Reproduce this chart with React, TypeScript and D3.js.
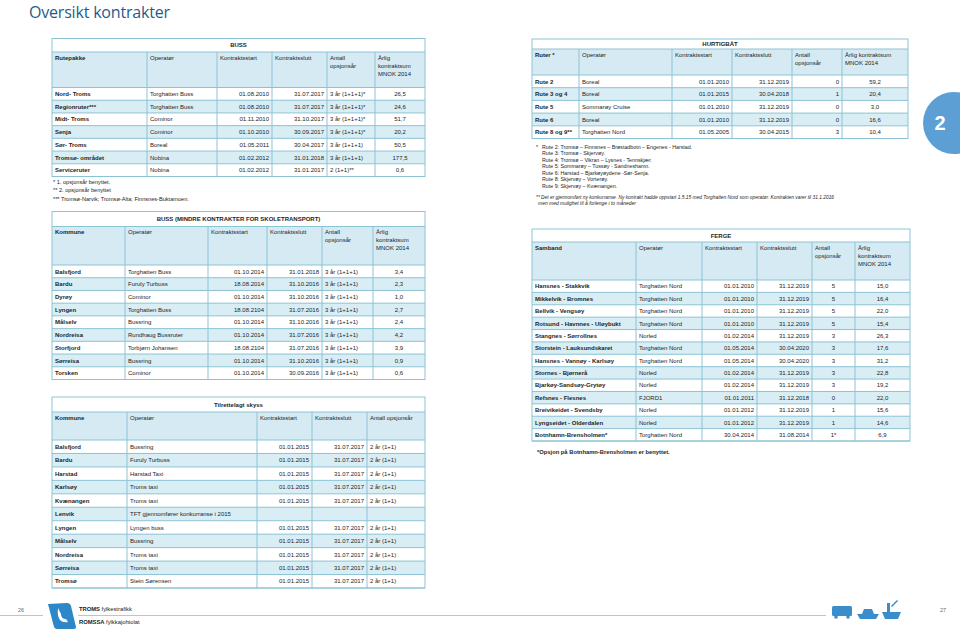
import React from 'react';
import * as d3 from 'd3';

// ---- BUSS
const bussRuter = ['Nord- Troms', 'Regionruter***', 'Midt- Troms', 'Senja', 'Sør- Troms', 'Tromsø- området', 'Serviceruter'];
const bussOperator = ['Torghatten Buss', 'Torghatten Buss', 'Cominor', 'Cominor', 'Boreal', 'Nobina', 'Nobina'];
const bussStart = ['01.08.2010', '01.08.2010', '01.11.2010', '01.10.2010', '01.05.2011', '01.02.2012', '01.02.2012'];
const bussSlutt = ['31.07.2017', '31.07.2017', '31.10.2017', '30.09.2017', '30.04.2017', '31.01.2018', '31.01.2017'];
const bussOpsjon = ['3 år (1+1+1)*', '3 år (1+1+1)*', '3 år (1+1+1)*', '3 år (1+1+1)*', '3 år (1+1+1)', '3 år (1+1+1)', '2 (1+1)**'];
const bussSum = ['26,5', '24,6', '51,7', '20,2', '50,5', '177,5', '0,6'];
const bussNotes = ['* 1. opsjonsår benyttet.', '** 2. opsjonsår benyttet', '*** Tromsø-Narvik; Tromsø-Alta; Finnsnes-Buktamoen.'];

// ---- BUSS (mindre kontrakter)
const skoleKommune = ['Balsfjord', 'Bardu', 'Dyrøy', 'Lyngen', 'Målselv', 'Nordreisa', 'Storfjord', 'Sørreisa', 'Torsken'];
const skoleOperator = ['Torghatten Buss', 'Furuly Turbuss', 'Cominor', 'Torghatten Buss', 'Bussring', 'Rundhaug Bussruter', 'Torbjørn Johansen', 'Bussring', 'Cominor'];
const skoleStart = ['01.10.2014', '18.08.2014', '01.10.2014', '18.08.2104', '01.10.2014', '01.10.2014', '18.08.2104', '01.10.2014', '01.10.2014'];
const skoleSlutt = ['31.01.2018', '31.10.2016', '31.10.2016', '31.07.2016', '31.10.2016', '31.07.2016', '31.07.2016', '31.10.2016', '30.09.2016'];
const skoleOpsjon = ['3 år (1+1+1)', '3 år (1+1+1)', '3 år (1+1+1)', '3 år (1+1+1)', '3 år (1+1+1)', '3 år (1+1+1)', '3 år (1+1+1)', '3 år (1+1+1)', '3 år (1+1+1)'];
const skoleSum = ['3,4', '2,3', '1,0', '2,7', '2,4', '4,2', '3,9', '0,9', '0,6'];

// ---- Tilrettelagt skyss
const tsKommune = ['Balsfjord', 'Bardu', 'Harstad', 'Karlsøy', 'Kvænangen', 'Lenvik', 'Lyngen', 'Målselv', 'Nordreisa', 'Sørreisa', 'Tromsø'];
const tsOperator = ['Bussring', 'Furuly Turbuss', 'Harstad Taxi', 'Troms taxi', 'Troms taxi', 'TFT gjennomfører konkurranse i 2015', 'Lyngen buss', 'Bussring', 'Troms taxi', 'Troms taxi', 'Stein Sørensen'];
const tsStart = ['01.01.2015', '01.01.2015', '01.01.2015', '01.01.2015', '01.01.2015', '', '01.01.2015', '01.01.2015', '01.01.2015', '01.01.2015', '01.01.2015'];
const tsSlutt = ['31.07.2017', '31.07.2017', '31.07.2017', '31.07.2017', '31.07.2017', '', '31.07.2017', '31.07.2017', '31.07.2017', '31.07.2017', '31.07.2017'];
const tsOpsjon = ['2 år (1+1)', '2 år (1+1)', '2 år (1+1)', '2 år (1+1)', '2 år (1+1)', '', '2 år (1+1)', '2 år (1+1)', '2 år (1+1)', '2 år (1+1)', '2 år (1+1)'];

// ---- HURTIGBÅT
const hbRuter = ['Rute 2', 'Rute 3 og 4', 'Rute 5', 'Rute 6', 'Rute 8 og 9**'];
const hbOperator = ['Boreal', 'Boreal', 'Sommarøy Cruise', 'Boreal', 'Torghatten Nord'];
const hbStart = ['01.01.2010', '01.01.2015', '01.01.2010', '01.01.2010', '01.05.2005'];
const hbSlutt = ['31.12.2019', '30.04.2018', '31.12.2019', '31.12.2019', '30.04.2015'];
const hbOpsjon = ['0', '1', '0', '0', '3'];
const hbSum = ['59,2', '20,4', '3,0', '16,6', '10,4'];
const hbNotes = [
  'Rute 2: Tromsø – Finnsnes – Brøstadbotn – Engenes - Harstad.',
  'Rute 3: Tromsø - Skjervøy.',
  'Rute 4: Tromsø – Vikran – Lysnes - Tennskjær.',
  'Rute 5: Sommarøy – Tussøy - Sandneshamn.',
  'Rute 6: Harstad – Bjarkøyøydene -Sør-Senja.',
  'Rute 8: Skjervøy – Vorterøy.',
  'Rute 9: Skjervøy – Kvænangen.',
];
const hbNote2 = [
  '** Det er gjennomført ny konkurranse. Ny kontrakt hadde oppstart 1.5.15 med Torghatten Nord som operatør. Kontrakten varer til 31.1.2016',
  'men med mulighet til å forlenge i to måneder',
];

// ---- FERGE
const fergeSamband = ['Hansnes - Stakkvik', 'Mikkelvik - Bromnes', 'Bellvik - Vengsøy', 'Rotsund - Havnnes - Uløybukt', 'Stangnes - Sørrollnes', 'Storstein - Lauksundskaret', 'Hansnes - Vannøy - Karlsøy', 'Stornes - Bjørnerå', 'Bjarkøy-Sandsøy-Grytøy', 'Refsnes - Flesnes', 'Breivikeidet - Svendsby', 'Lyngseidet - Olderdalen', 'Botnhamn-Brensholmen*'];
const fergeOperator = ['Torghatten Nord', 'Torghatten Nord', 'Torghatten Nord', 'Torghatten Nord', 'Norled', 'Torghatten Nord', 'Torghatten Nord', 'Norled', 'Norled', 'FJORD1', 'Norled', 'Norled', 'Torghatten Nord'];
const fergeStart = ['01.01.2010', '01.01.2010', '01.01.2010', '01.01.2010', '01.02.2014', '01.05.2014', '01.05.2014', '01.02.2014', '01.02.2014', '01.01.2011', '01.01.2012', '01.01.2012', '30.04.2014'];
const fergeSlutt = ['31.12.2019', '31.12.2019', '31.12.2019', '31.12.2019', '31.12.2019', '30.04.2020', '30.04.2020', '31.12.2019', '31.12.2019', '31.12.2018', '31.12.2019', '31.12.2019', '31.08.2014'];
const fergeOpsjon = ['5', '5', '5', '5', '3', '3', '3', '3', '3', '0', '1', '1', '1*'];
const fergeSum = ['15,0', '16,4', '22,0', '15,4', '26,3', '17,6', '31,2', '22,8', '19,2', '22,0', '15,6', '14,6', '6,9'];
const fergeNote = '*Opsjon på Botnhamn-Brensholmen er benyttet.';

const FONT = "'Liberation Sans', Arial, sans-serif";
const BORDER = '#8cc3d4';
const ZEBRA = '#d9edf5';
const INK = '#1e1e1e';

type Align = 'left' | 'right' | 'center';

function Table(props: {
  edges: number[]; top: number; titleBottom: number; headerBottom: number; bottom: number;
  title: string; headers: string[][]; cols: string[][]; align: Align[];
}) {
  const { edges, top, titleBottom, headerBottom, bottom, title, headers, cols, align } = props;
  const rows = d3.transpose<string>(cols);
  const y = d3.scaleBand<number>().domain(d3.range(rows.length)).range([headerBottom, bottom]);
  const left = edges[0], right = edges[edges.length - 1];
  const tx = (c: number) => align[c] === 'left' ? edges[c] + 3 : align[c] === 'right' ? edges[c + 1] - 3 : (edges[c] + edges[c + 1]) / 2;
  const anchor = (c: number) => align[c] === 'left' ? 'start' : align[c] === 'right' ? 'end' : 'middle';
  return (
    <g fontFamily={FONT} fontSize={6} fill={INK}>
      <rect x={left} y={titleBottom} width={right - left} height={headerBottom - titleBottom} fill="#d5eaf3" />
      {rows.map((r, i) => (
        <rect key={i} x={left} y={y(i)} width={right - left} height={y.bandwidth()} fill={i % 2 ? ZEBRA : '#fff'} />
      ))}
      <g stroke={BORDER} strokeWidth={1} fill="none">
        <rect x={left} y={top} width={right - left} height={bottom - top} />
        <line x1={left} x2={right} y1={titleBottom} y2={titleBottom} />
        <line x1={left} x2={right} y1={headerBottom} y2={headerBottom} />
        {rows.map((r, i) => (<line key={i} x1={left} x2={right} y1={y(i)! + y.bandwidth()} y2={y(i)! + y.bandwidth()} />))}
        {edges.slice(1, -1).map((e, i) => (<line key={i} x1={e} x2={e} y1={titleBottom} y2={bottom} />))}
      </g>
      <text x={(left + right) / 2} y={(top + titleBottom) / 2 + 2.2} textAnchor="middle" fontWeight="bold">{title}</text>
      {headers.map((h, c) => h.map((line, k) => (
        <text key={c + '-' + k} x={edges[c] + 3} y={titleBottom + 7.5 + k * 8} fontWeight={c === 0 ? 'bold' : 'normal'}>{line}</text>
      )))}
      {rows.map((r, i) => r.map((v, c) => (
        <text key={i + '-' + c} x={tx(c)} y={y(i)! + y.bandwidth() / 2 + 2.2} textAnchor={anchor(c)} fontWeight={c === 0 ? 'bold' : 'normal'}>{v}</text>
      )))}
    </g>
  );
}

const hdrSum = ['Årlig', 'kontraktsum', 'MNOK 2014'];

export default function App() {
  return (
    <svg width={960} height={629} style={{ position: 'absolute', left: 0, top: 0, background: '#fff' }}>
      <text x={29} y={17.5} fontFamily="'Open Sans', sans-serif" fontSize={16} fill="#1f5c8c" textLength={141}>Oversikt kontrakter</text>

      <Table edges={[52, 147, 217, 272, 327, 375, 425]} top={38.5} titleBottom={52} headerBottom={87.5} bottom={176.5}
        title="BUSS"
        headers={[['Rutepakke'], ['Operatør'], ['Kontraktsstart'], ['Kontraktsslutt'], ['Antall', 'opsjonsår'], hdrSum]}
        cols={[bussRuter, bussOperator, bussStart, bussSlutt, bussOpsjon, bussSum]}
        align={['left', 'left', 'right', 'right', 'left', 'center']} />
      <g fontFamily={FONT} fontSize={5.6} fill={INK}>
        {bussNotes.map((n, i) => (<text key={i} x={53} y={184 + i * 8.3}>{n}</text>))}
      </g>

      <Table edges={[52, 125, 208, 267, 322, 373, 425]} top={211.5} titleBottom={226.5} headerBottom={265} bottom={379.5}
        title="BUSS (MINDRE KONTRAKTER FOR SKOLETRANSPORT)"
        headers={[['Kommune'], ['Operatør'], ['Kontraktsstart'], ['Kontraktsslutt'], ['Antall', 'opsjonsår'], hdrSum]}
        cols={[skoleKommune, skoleOperator, skoleStart, skoleSlutt, skoleOpsjon, skoleSum]}
        align={['left', 'left', 'right', 'right', 'left', 'center']} />

      <Table edges={[52, 127, 257, 312, 367, 425]} top={397} titleBottom={412} headerBottom={440} bottom={588}
        title="Tilrettelagt skyss"
        headers={[['Kommune'], ['Operatør'], ['Kontraktsstart'], ['Kontraktsslutt'], ['Antall opsjonsår']]}
        cols={[tsKommune, tsOperator, tsStart, tsSlutt, tsOpsjon]}
        align={['left', 'left', 'right', 'right', 'left']} />

      <Table edges={[532, 579, 672, 732, 792, 842, 908]} top={39} titleBottom={49} headerBottom={75} bottom={138.5}
        title="HURTIGBÅT"
        headers={[['Ruter *'], ['Operatør'], ['Kontraktsstart'], ['Kontraktsslutt'], ['Antall', 'opsjonsår'], ['Årlig kontraktsum', 'MNOK 2014']]}
        cols={[hbRuter, hbOperator, hbStart, hbSlutt, hbOpsjon, hbSum]}
        align={['left', 'left', 'right', 'right', 'right', 'center']} />
      <g fontFamily={FONT} fontSize={5.3} fill={INK}>
        <text x={536} y={148.5}>*</text>
        {hbNotes.map((n, i) => (<text key={i} x={542} y={148.5 + i * 6.5}>{n}</text>))}
        <text x={536} y={199} fontStyle="italic" fontSize={4.8} textLength={298} lengthAdjust="spacingAndGlyphs">{hbNote2[0]}</text>
        <text x={538} y={205} fontStyle="italic" fontSize={4.8} textLength={98} lengthAdjust="spacingAndGlyphs">{hbNote2[1]}</text>
      </g>

      <Table edges={[532, 636, 702, 757, 812, 855, 910]} top={229} titleBottom={242} headerBottom={280} bottom={441}
        title="FERGE"
        headers={[['Samband'], ['Operatør'], ['Kontraktsstart'], ['Kontraktsslutt'], ['Antall', 'opsjonsår'], hdrSum]}
        cols={[fergeSamband, fergeOperator, fergeStart, fergeSlutt, fergeOpsjon, fergeSum]}
        align={['left', 'left', 'right', 'right', 'center', 'center']} />
      <text x={537} y={454} fontFamily={FONT} fontSize={5.8} fontWeight="bold" fill={INK}>{fergeNote}</text>

      {/* chapter marker */}
      <circle cx={954} cy={123} r={31} fill="#5b9fd5" />
      <text x={940} y={130} fontFamily={FONT} fontSize={20} fontWeight="bold" fill="#fff" textAnchor="middle">2</text>

      {/* footer */}
      <g fontFamily={FONT}>
        <line x1={0} x2={43} y1={615.5} y2={615.5} stroke="#8cc3d4" strokeWidth={0.8} />
        <line x1={78} x2={826} y1={615.5} y2={615.5} stroke="#8cc3d4" strokeWidth={0.8} />
        <text x={18} y={612} fontSize={5.5} fill="#666">26</text>
        <path d="M48,604 L67,603 Q70,603 71,606 L76,627 Q76,629 73,629 L57,629 Q55,629 54,627 Z" fill="#2e87c8" />
        <path d="M58,608 Q57,616 60,620 Q63,623 68,622 L66,619 Q61,619 61,614 Z" fill="#fff" />
        <text x={79} y={611} fontSize={5.8} fill="#222"><tspan fontWeight="bold">TROMS</tspan> fylkestrafikk</text>
        <text x={79} y={624} fontSize={5.8} fill="#222"><tspan fontWeight="bold">ROMSSA</tspan> fylkkajohtolat</text>
        <g fill="#3a8ccb">
          <rect x={832} y={606} width={20} height={10} rx={1.5} />
          <circle cx={836} cy={617} r={1.8} />
          <circle cx={848} cy={617} r={1.8} />
          <path d="M857,614 L879,614 L876,619 L860,619 Z" />
          <path d="M862,614 L864,609 L872,609 L874,614 Z" />
          <path d="M882,612 L901,612 L898,619 L885,619 Z" />
          <rect x={887} y={603} width={3} height={9} />
          <path d="M891,606 L897,600 L898,601 L892,607 Z" />
        </g>
        <text x={940} y={612} fontSize={5.5} fill="#666">27</text>
      </g>
    </svg>
  );
}
